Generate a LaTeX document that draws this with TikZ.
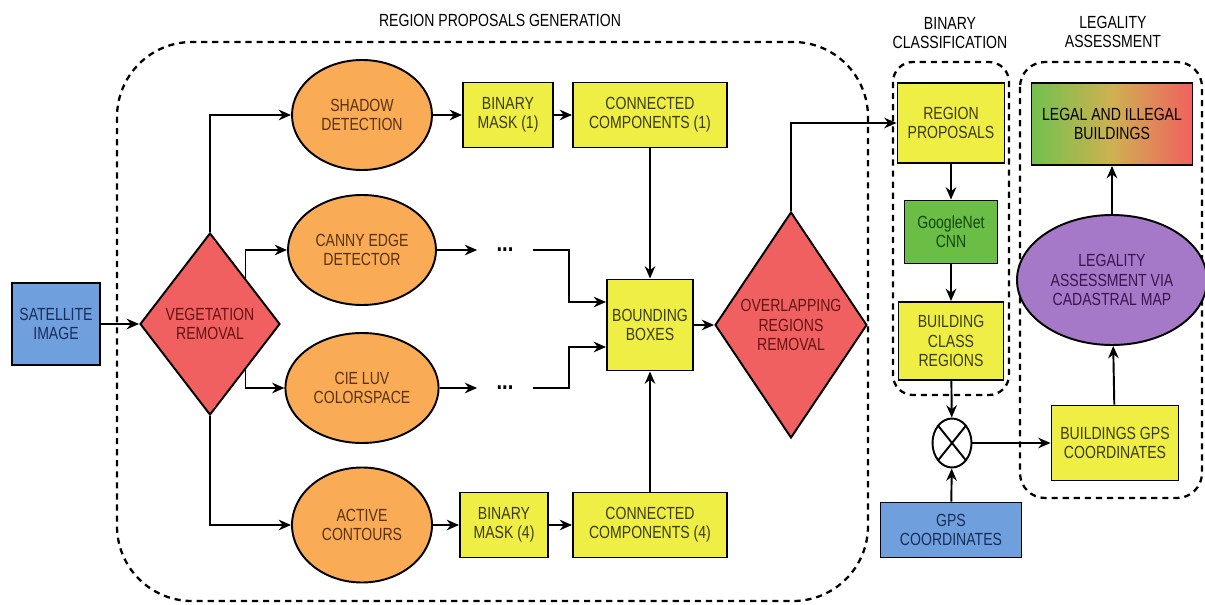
\documentclass[tikz,border=0pt]{standalone}
\usepackage{fontspec}
\setmainfont{Liberation Sans}[FakeStretch=0.8]
\usetikzlibrary{shapes.geometric, arrows.meta}

\definecolor{satblue}{RGB}{111,159,220}
\definecolor{satink}{RGB}{25,45,90}
\definecolor{vegred}{RGB}{240,96,96}
\definecolor{vegink}{RGB}{100,20,20}
\definecolor{orng}{RGB}{249,171,86}
\definecolor{orngink}{RGB}{90,50,10}
\definecolor{yel}{RGB}{238,238,68}
\definecolor{yelink}{RGB}{60,60,10}
\definecolor{grn}{RGB}{106,190,69}
\definecolor{grnink}{RGB}{20,70,10}
\definecolor{purp}{RGB}{166,120,200}
\definecolor{purpink}{RGB}{60,20,80}

\tikzset
 {> = {Stealth[length=7pt, width=6pt]},    % arrow tips as in the original
  every node/.style = {font=\fontsize{10}{11}\selectfont, align=center},
  block/.style =                               % plain rectangular process box
   {draw, line width=1.1pt, inner sep=2pt, minimum width=#1},
  block/.default = 2cm,
  inbox/.style   = {block=1.76cm, fill=satblue, text=satink},   % blue inputs
  stagebox/.style = {block, fill=yel, text=yelink},      % yellow intermediate
  cnnbox/.style  = {block=1.86cm, fill=grn, text=grnink},
  decide/.style  =                                 % red diamonds
   {diamond, draw, line width=1.1pt, inner sep=0pt, fill=vegred, text=vegink},
  method/.style  =                                 % orange ellipses
   {ellipse, draw, line width=1.1pt, fill=orng, text=orngink,
    minimum width=2.8cm, minimum height=2.2cm},
  group/.style   =                                 % dashed containers
   {draw, line width=1.3pt, dash pattern=on 3.5pt off 2.8pt},
  link/.style    = {->, line width=1.1pt}          % connectors
 }

\begin{document}
\begin{tikzpicture}[x=1cm, y=1cm]
    \useasboundingbox (0,0) rectangle (24.1,-12.1);

    % containers and their titles
    \draw[group, rounded corners=1.5cm] (2.34,-0.84) rectangle (17.36,-12.02);
    \draw[group, rounded corners=0.4cm] (17.86,-1.24) rectangle (20.18,-7.9);
    \draw[group, rounded corners=0.5cm] (20.4,-1.24) rectangle (24.04,-9.96);
    \node (title rpg) at (10.0,-0.4) {REGION PROPOSALS GENERATION};
    \node (title bc) at (19.0,-0.66) {BINARY\\CLASSIFICATION};
    \node (title la) at (22.26,-0.64) {LEGALITY\\ASSESSMENT};

    % region proposals generation
    \node[inbox, minimum height=1.64cm] (sat) at (1.12,-6.48) {SATELLITE\\IMAGE};
    \node[decide, minimum width=2.8cm, minimum height=3.64cm] (veg) at (4.2,-6.48) {VEGETATION\\REMOVAL};
    \node[method] (shadow) at (7.24,-2.3) {SHADOW\\DETECTION};
    \node[method] (canny) at (7.24,-5.0) {CANNY EDGE\\DETECTOR};
    \node[method] (cie) at (7.24,-7.76) {CIE LUV\\COLORSPACE};
    \node[method, minimum height=2.3cm] (active) at (7.24,-10.5) {ACTIVE\\CONTOURS};
    \node[stagebox, minimum width=1.8cm, minimum height=1.3cm] (bin1) at (10.16,-2.3) {BINARY\\MASK (1)};
    \node[stagebox, minimum width=3.08cm, minimum height=1.3cm] (cc1) at (13.0,-2.3) {CONNECTED\\COMPONENTS (1)};
    \node[stagebox, minimum width=1.76cm, minimum height=1.3cm] (bin4) at (10.08,-10.5) {BINARY\\MASK (4)};
    \node[stagebox, minimum width=3.08cm, minimum height=1.3cm] (cc4) at (13.0,-10.5) {CONNECTED\\COMPONENTS (4)};
    \node[inner sep=0pt, minimum width=1.1cm, font=\bfseries\Large] (dots1) at (10.1,-5.0) {...};
    \node[inner sep=0pt, minimum width=1.1cm, font=\bfseries\Large] (dots2) at (10.1,-7.76) {...};
    \node[stagebox, minimum width=1.72cm, minimum height=1.82cm] (bbox) at (13.0,-6.5) {BOUNDING\\BOXES};
    \node[decide, minimum width=2.76cm, minimum height=4.52cm] (overlap) at (15.82,-6.5) {OVERLAPPING\\REGIONS\\REMOVAL};

    % binary classification
    \node[stagebox, minimum width=2.14cm, minimum height=1.6cm] (rp) at (19.02,-2.46) {REGION\\PROPOSALS};
    \node[cnnbox, minimum height=1.26cm] (gnet) at (19.02,-4.64) {GoogleNet\\CNN};
    \node[stagebox, minimum width=2.1cm, minimum height=1.56cm] (bcr) at (19.02,-6.82) {BUILDING\\CLASS\\REGIONS};
    \node[ellipse, draw, line width=1.1pt, fill=white, minimum width=0.78cm, minimum height=0.98cm] (mult) at (19.04,-8.86) {};
    \draw[line width=1.1pt] (mult.north west) -- (mult.south east) (mult.north east) -- (mult.south west);
    \node[inbox, minimum width=2.82cm, minimum height=1.1cm] (gps) at (19.02,-10.6) {GPS\\COORDINATES};

    % legality assessment
    \node[block=3.22cm, minimum height=1.64cm, left color=grn!95!white, right color=vegred, middle color=orng!70!grn] (legal) at (22.24,-2.48) {LEGAL AND ILLEGAL\\BUILDINGS};
    \node[ellipse, draw, line width=1.1pt, fill=purp, text=purpink, minimum width=3.2cm, minimum height=2.6cm] (cad) at (22.24,-5.6) {LEGALITY\\ASSESSMENT VIA\\CADASTRAL MAP};
    \node[stagebox, minimum width=2.54cm, minimum height=1.5cm] (bgps) at (22.3,-8.86) {BUILDINGS GPS\\COORDINATES};

    % connectors
    \draw[link] (sat) -- (veg);
    \draw[link] (veg.north) |- (shadow);
    \draw[link] (veg.north east) |- (canny);
    \draw[link] (veg.south east) |- (cie);
    \draw[link] (veg.south) |- (active);
    \draw[link] (shadow) -- (bin1);
    \draw[link] (bin1) -- (cc1);
    \draw[link] (active) -- (bin4);
    \draw[link] (bin4) -- (cc4);
    \draw[link] (canny) -- (dots1);
    \draw[link] (cie) -- (dots2);
    \draw[link] (dots1.east) -- ++(0.72,0) |- ([yshift=0.46cm]bbox.west);
    \draw[link] (dots2.east) -- ++(0.72,0) |- ([yshift=-0.44cm]bbox.west);
    \draw[link] (cc1) -- (bbox);
    \draw[link] (cc4) -- (bbox);
    \draw[link] (bbox) -- (overlap);
    \draw[link] (overlap.north) |- (rp);
    \draw[link] (rp) -- (gnet);
    \draw[link] (gnet) -- (bcr);
    \draw[link] (bcr) -- (mult);
    \draw[link] (gps) -- (mult);
    \draw[link] (mult) -- (bgps);
    \draw[link] (bgps) -- (cad);
    \draw[link] (cad) -- (legal);
\end{tikzpicture}
\end{document}
